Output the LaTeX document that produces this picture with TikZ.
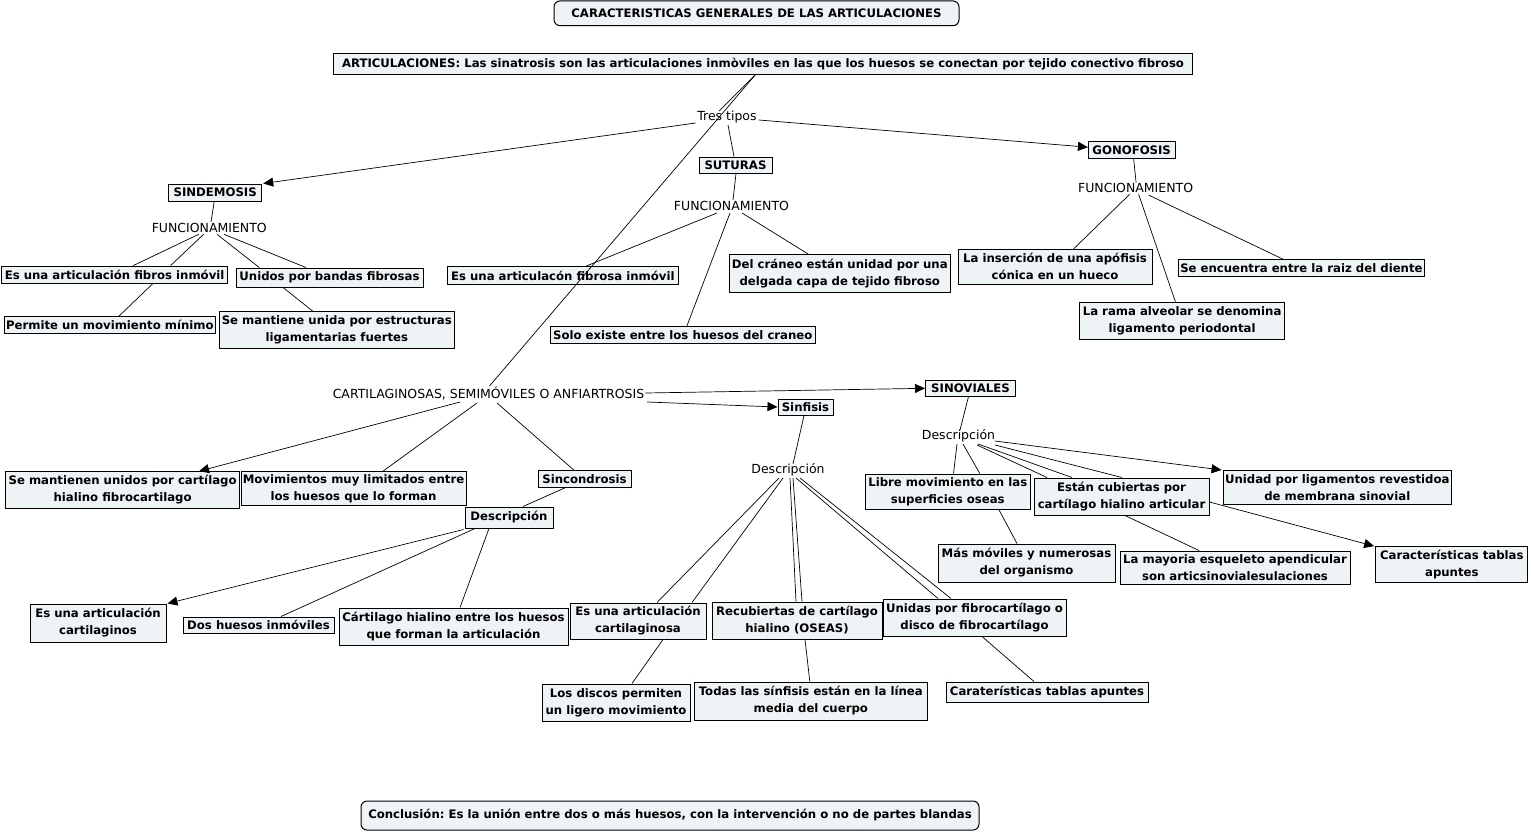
\documentclass[tikz,border=0pt]{standalone}
\usepackage{fontspec}
\setmainfont{DejaVu Sans}
\usetikzlibrary{arrows.meta,calc}
\definecolor{cfill}{RGB}{238,243,246}
\frenchspacing
\newcommand\cbf{\fontsize{11.7}{17}\selectfont\bfseries}
\newcommand\lkf{\fontsize{12.5}{14}\selectfont}
\begin{document}
\begin{tikzpicture}[x=1pt,y=-1pt,
  cbox/.style 2 args={draw=black, line width=1pt, fill=cfill, minimum width=#1pt, minimum height=#2pt, inner sep=0pt, align=center, font=\cbf},
  rbox/.style 2 args={cbox={#1}{#2}, rounded corners=6pt},
  lk/.style={inner sep=1pt, font=\lkf},
  ln/.style={draw=black, line width=0.7pt},
  arr/.style={ln, -{Triangle[length=10pt,width=9pt]}}]
\useasboundingbox[fill=white] (0,0) rectangle (1531,833);

% ---- nodes
\node[rbox={405}{24.7}] (title) at (756.5,13.3) {CARACTERISTICAS GENERALES DE LAS ARTICULACIONES};
\node[cbox={859}{21.4}] (main) at (763,64) {ARTICULACIONES: Las sinatrosis son las articulaciones inmòviles en las que los huesos se conectan por tejido conectivo fibroso};
\node[lk] (tres) at (727,117) {Tres tipos};
\node[cbox={93}{17}] (sind) at (215.2,192.5) {SINDEMOSIS};
\node[cbox={73}{16}] (sut) at (735.5,165) {SUTURAS};
\node[cbox={86.6}{17}] (gono) at (1131.7,150.2) {GONOFOSIS};
\node[lk] (f1) at (209.3,228) {FUNCIONAMIENTO};
\node[lk] (f2) at (731.5,206) {FUNCIONAMIENTO};
\node[lk] (f3) at (1135.6,187.7) {FUNCIONAMIENTO};
\node[cbox={226.3}{17.3}] (esuna1) at (114.6,274.7) {Es una articulación fibros inmóvil};
\node[cbox={187}{19.3}] (unidos) at (329.5,277.7) {Unidos por bandas fibrosas};
\node[cbox={211.7}{16.6}] (permite) at (109.9,325) {Permite un movimiento mínimo};
\node[cbox={234.4}{36.6}] (semant) at (336.8,330) {Se mantiene unida por estructuras\\ligamentarias fuertes};
\node[cbox={231.6}{17.6}] (esuna2) at (562.8,275.5) {Es una articulacón fibrosa inmóvil};
\node[cbox={265.5}{16.6}] (solo) at (682.8,335) {Solo existe entre los huesos del craneo};
\node[cbox={220.5}{37.7}] (delcra) at (839.8,273.8) {Del cráneo están unidad por una\\delgada capa de tejido fibroso};
\node[cbox={194}{35}] (inser) at (1055,266.8) {La inserción de una apófisis\\cónica en un hueco};
\node[cbox={246.7}{16.7}] (seenc) at (1301.4,268.3) {Se encuentra entre la raiz del diente};
\node[cbox={205}{37}] (rama) at (1182.1,320.8) {La rama alveolar se denomina\\ligamento periodontal};
\node[lk] (cart) at (488.5,393) {CARTILAGINOSAS, SEMIMÓVILES O ANFIARTROSIS};
\node[cbox={90}{15.5}] (sinov) at (970.5,388.3) {SINOVIALES};
\node[cbox={55}{16}] (sinf) at (805.5,407) {Sinfisis};
\node[cbox={233.7}{36.6}] (semant2) at (122.6,490) {Se mantienen unidos por cartílago\\hialino fibrocartilago};
\node[cbox={225}{34.3}] (movim) at (353.5,488.8) {Movimientos muy limitados entre\\los huesos que lo forman};
\node[cbox={93}{16.6}] (sinc) at (584.5,479) {Sincondrosis};
\node[cbox={88}{21}] (desc1) at (509,517.5) {Descripción};
\node[cbox={136}{38}] (esuna3) at (98,623) {Es una articulación\\cartilaginos};
\node[cbox={151}{16}] (doshue) at (258.5,625) {Dos huesos inmóviles};
\node[cbox={229}{37}] (cartil) at (453.5,626.5) {Cártilago hialino entre los huesos\\que forman la articulación};
\node[lk] (desc2) at (788,470) {Descripción};
\node[cbox={136}{36}] (esuna4) at (638,621) {Es una articulación\\cartilaginosa};
\node[cbox={170}{37}] (recub) at (797,620.5) {Recubiertas de cartílago\\hialino (OSEAS)};
\node[cbox={183}{37}] (unidas) at (974.5,617.5) {Unidas por fibrocartílago o\\disco de fibrocartílago};
\node[cbox={148}{37}] (discos) at (616,702.5) {Los discos permiten\\un ligero movimiento};
\node[cbox={233.5}{38}] (todas) at (810.8,701) {Todas las sínfisis están en la línea\\media del cuerpo};
\node[cbox={202}{20}] (carat) at (1047,692) {Caraterísticas tablas apuntes};
\node[lk] (desc3) at (958.5,436) {Descripción};
\node[cbox={164.5}{35}] (libre) at (947.8,491.5) {Libre movimiento en las\\superficies oseas};
\node[cbox={175}{37}] (estan) at (1121.5,496.5) {Están cubiertas por\\cartílago hialino articular};
\node[cbox={228.5}{34}] (unidad) at (1337.3,487.5) {Unidad por ligamentos revestidoa\\de membrana sinovial};
\node[cbox={177}{38}] (masmov) at (1026.5,563) {Más móviles y numerosas\\del organismo};
\node[cbox={230}{33}] (mayor) at (1235,567.5) {La mayoria esqueleto apendicular\\son articsinovialesulaciones};
\node[cbox={152.3}{36.3}] (caract) at (1451.8,564.8) {Características tablas\\apuntes};
\node[rbox={618}{29}] (concl) at (670,815.5) {Conclusión: Es la unión entre dos o más huesos, con la intervención o no de partes blandas};

% ---- connectors
\draw[ln] ($(main.south)+(-8,0)$) -- ($(tres)+(-8,-6)$);
\draw[ln] ($(main.south)+(-8,0)$) -- ($(cart)+(1,-7)$);
\draw[arr] ($(tres)+(-31.4,6)$) -- ($(sind.north east)+(1,0)$);
\draw[ln] ($(tres)+(1,8)$) -- ($(sut.north)+(-1.5,0)$);
\draw[arr] ($(tres)+(32,3)$) -- ($(gono.west)+(0,-3)$);

\draw[ln] ($(sind.south)+(-1,0)$) -- ($(f1)+(1.7,-6)$);
\draw[ln] ($(f1)+(-10.6,6.3)$) -- ($(esuna1.north)+(18.7,0)$);
\draw[ln] ($(f1)+(-5.7,6.3)$) -- ($(esuna1.north)+(56,0)$);
\draw[ln] ($(f1)+(7.7,6.3)$) -- ($(unidos.north)+(-70.2,0)$);
\draw[ln] ($(f1)+(14.7,6.3)$) -- ($(unidos.north)+(-23.5,0)$);
\draw[ln] ($(esuna1.south)+(38,0)$) -- ($(permite.north)+(9,0)$);
\draw[ln] ($(unidos.south)+(-46,0)$) -- ($(semant.north)+(-24,0)$);

\draw[ln] ($(sut.south)+(0.5,0)$) -- ($(f2)+(1.5,-6)$);
\draw[ln] ($(f2)+(-14.5,7)$) -- ($(esuna2.north)+(23,0)$);
\draw[ln] ($(f2)+(-1.5,7)$) -- ($(solo.north)+(4,0)$);
\draw[ln] ($(f2)+(10.5,7)$) -- ($(delcra.north)+(-31,0)$);

\draw[ln] ($(gono.south)+(2,0)$) -- ($(f3)+(0.5,-5)$);
\draw[ln] ($(f3)+(-6,6.6)$) -- ($(inser.north)+(18.7,0)$);
\draw[ln] ($(f3)+(3,6.6)$) -- ($(rama.north)+(-6.7,0)$);
\draw[ln] ($(f3)+(12.8,7.3)$) -- ($(seenc.north)+(-17.8,0)$);

\draw[arr] (cart.east) -- (sinov.west);
\draw[arr] ($(cart)+(158.5,9)$) -- (sinf.west);
\draw[arr] ($(cart)+(-28.5,9)$) -- ($(semant2.north)+(76.4,0)$);
\draw[ln] ($(cart)+(-11.5,10)$) -- ($(movim.north)+(29.5,0)$);
\draw[ln] ($(cart)+(8.5,10)$) -- ($(sinc.north)+(-10.5,0)$);
\draw[ln] ($(sinc.south)+(-19.5,0)$) -- ($(desc1.north)+(14,0)$);
\draw[arr] ($(desc1.south west)+(-1,1)$) -- ($(esuna3.north east)+(1,0)$);
\draw[ln] ($(desc1.south)+(-34,0)$) -- ($(doshue.north)+(22.5,0)$);
\draw[ln] ($(desc1.south)+(-20,0)$) -- ($(cartil.north)+(6.5,0)$);

\draw[ln] ($(sinf.south)+(-1.5,0)$) -- ($(desc2)+(5,-6)$);
\draw[ln] ($(desc2)+(-9,8)$) -- ($(esuna4.north)+(19,0)$);
\draw[ln] ($(desc2)+(-5,8)$) -- ($(esuna4.north)+(54,0)$);
\draw[ln] ($(desc2)+(2,8)$) -- ($(recub.north)+(-1,0)$);
\draw[ln] ($(desc2)+(5,8)$) -- ($(recub.north)+(5,0)$);
\draw[ln] ($(desc2)+(8,8)$) -- ($(unidas.north)+(-36.5,0)$);
\draw[ln] ($(desc2)+(12,8)$) -- ($(unidas.north)+(-23.5,0)$);
\draw[ln] ($(esuna4.south)+(25,0)$) -- ($(discos.north)+(16,0)$);
\draw[ln] ($(recub.south)+(8,0)$) -- ($(todas.north)+(-1,0)$);
\draw[ln] ($(unidas.south)+(7.5,0)$) -- ($(carat.north)+(-13,0)$);

\draw[ln] ($(sinov.south)+(-2,0)$) -- ($(desc3)+(1.5,-6)$);
\draw[ln] ($(desc3)+(-1.5,8)$) -- ($(libre.north)+(5.7,0)$);
\draw[ln] ($(desc3)+(4.5,8)$) -- ($(libre.north)+(32,0)$);
\draw[ln] ($(libre.south)+(51,0)$) -- ($(masmov.north)+(-9.5,0)$);
\draw[ln] ($(desc3)+(18.5,9)$) -- ($(estan.north)+(-74.5,0)$);
\draw[ln] ($(desc3)+(19.5,8)$) -- ($(estan.north)+(-49.5,0)$);
\draw[ln] ($(desc3)+(36.5,9)$) -- ($(estan.north)+(0.5,0)$);
\draw[arr] ($(desc3)+(36.5,5)$) -- ($(unidad.north west)+(-1,0)$);
\draw[ln] ($(estan.south)+(3.5,0)$) -- ($(mayor.north)+(-36,0)$);
\draw[arr] ($(estan.east)+(0,5.5)$) -- ($(caract.north west)+(-1,0)$);
\end{tikzpicture}
\end{document}
